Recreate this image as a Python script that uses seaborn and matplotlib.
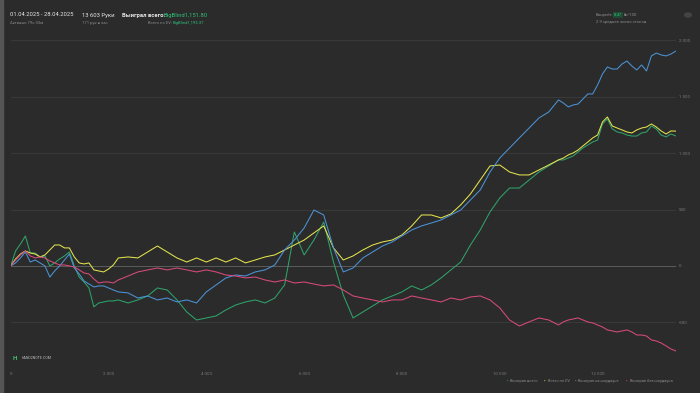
import pandas as pd
import seaborn as sns
import matplotlib.pyplot as plt
from matplotlib.ticker import FuncFormatter, FixedLocator

# hands played: finer steps where the picture was read more closely
hands = list(range(0, 2300, 100)) + list(range(2400, 11200, 200)) + \
    list(range(11200, 13600, 100)) + [13603]

# winnings in big blinds
won_total = [0, 133, 195, 266, 115, 115, 80, 89, 0, 27, 62, 89, 124, 0, -98, -142, -195,
             -363, -328, -319, -310, -310, -301,
             -328, -301, -266, -195, -213, -301, -408, -479, -461, -443, -390, -346, -319,
             -301, -328, -284, -168, 301, 98, 230, 390, 35, -257, -461, -408, -355, -301,
             -266, -230, -177, -213, -168, -106, -35, 35, 186, 319, 479, 603, 691, 691, 762,
             833, 887,
             940, 940, 957, 975, 1011, 1046, 1073, 1099, 1117, 1259, 1303, 1215, 1188, 1179,
             1161, 1152, 1152, 1179, 1188, 1241, 1215, 1161, 1144, 1170, 1151.8]
ev_total = [0, 62, 106, 133, 115, 106, 80, 98, 142, 186, 186, 160, 160, 80, 27, 18, 27, -35,
            -44, -53, -27, 9, 71,
            80, 71, 124, 177, 124, 71, 35, 71, 35, 71, 35, 71, 27, 53, 80, 98, 142, 186, 230,
            293, 355, 160, 53, 89, 142, 186, 213, 230, 275, 355, 452, 452, 426, 461, 541,
            638, 762, 887, 895, 833, 807, 807, 851, 895,
            940, 957, 984, 1002, 1028, 1064, 1099, 1135, 1161, 1277, 1321, 1241, 1223, 1206,
            1188, 1179, 1206, 1223, 1232, 1259, 1232, 1197, 1170, 1197, 1195.37]
won_sd = [0, 27, 71, 124, 35, 53, 27, 0, -98, -44, 0, 53, 106, -18, -71, -133, -160, -186,
          -177, -177, -195, -213, -230,
          -239, -284, -266, -301, -284, -319, -301, -328, -230, -168, -106, -80, -89, -53,
          -35, 9, 142, 230, 337, 496, 452, 160, -53, -18, 71, 124, 177, 213, 266, 319, 355,
          381, 408, 452, 496, 585, 674, 833, 957, 1046, 1135, 1223, 1312, 1365,
          1472, 1445, 1410, 1427, 1436, 1480, 1525, 1525, 1605, 1702, 1764, 1746, 1746,
          1791, 1817, 1773, 1738, 1782, 1729, 1862, 1888, 1871, 1862, 1879, 1906]
won_nsd = [0, 53, 98, 133, 89, 71, 80, 71, 44, 27, 9, 9, 0, -9, -35, -62, -71, -115, -151,
           -142, -142, -151, -124,
           -89, -53, -35, -18, -35, -18, -35, -53, -35, -53, -80, -89, -106, -98, -124, -142,
           -124, -151, -142, -160, -177, -168, -213, -266, -284, -301, -319, -301, -301,
           -266, -284, -301, -319, -284, -301, -275, -266, -301, -372, -479, -532, -496,
           -461, -479,
           -523, -496, -479, -470, -461, -479, -496, -505, -523, -541, -567, -576, -585,
           -576, -567, -585, -612, -612, -621, -656, -665, -683, -709, -736, -754]

series_names = ["Выиграл всего", "Всего по EV", "Выиграл на шоудауне", "Выиграл без шоудауна"]
series_colors = ["#2fa36b", "#e3e34f", "#4b93d6", "#d84a7c"]

y_ticks = [-500, 0, 500, 1000, 1500, 2000]
x_ticks = [0, 2000, 4000, 6000, 8000, 10000, 12000]

BG = "#2b2b2b"

df = pd.DataFrame({"hand": hands * 4,
                   "bb": won_total + ev_total + won_sd + won_nsd,
                   "series": sum([[n] * len(hands) for n in series_names], [])})

sns.set_style("dark")
plt.rcParams["font.family"] = ["Roboto", "DejaVu Sans"]

fig = plt.figure(figsize=(7, 3.93), dpi=100, facecolor=BG)
ax = fig.add_axes([10.7 / 700, 1 - 365 / 393, (676 - 10.7) / 700, (365 - 30) / 393])
ax.set_facecolor(BG)

# grid lines
for t in y_ticks:
    ax.axhline(t, color="#5c5c5c" if t == 0 else "#3a3a3a", lw=0.7, zorder=0)

sns.lineplot(data=df, x="hand", y="bb", hue="series", hue_order=series_names,
             palette=dict(zip(series_names, series_colors)), linewidth=0.75,
             legend=False, ax=ax, estimator=None)

ax.set_xlim(0, 13603)
ax.set_ylim(-878, 2092)
for s in ax.spines.values():
    s.set_visible(False)
ax.set_xlabel("")
ax.set_ylabel("")
fmt = FuncFormatter(lambda v, p: f"{int(v):,}".replace(",", " "))
ax.xaxis.set_major_locator(FixedLocator(x_ticks))
ax.yaxis.set_major_locator(FixedLocator(y_ticks))
ax.xaxis.set_major_formatter(fmt)
ax.yaxis.set_major_formatter(fmt)
ax.yaxis.tick_right()
ax.tick_params(axis="both", length=0, labelsize=3.2, colors="#7a7a7a")
ax.tick_params(axis="x", pad=5)
ax.tick_params(axis="y", pad=2)

# left border strip
fig.patches.append(plt.Rectangle((0, 0), 3 / 700, 1, transform=fig.transFigure,
                                 color="#555555", zorder=0))

# header
W, G, L = "#e6e6e6", "#2fbf7a", "#8a8a8a"
big, small = 4.2, 3.0
fig.text(10 / 700, 1 - 15 / 393, "01.04.2025 - 28.04.2025", color=W, fontsize=big, va="center")
fig.text(10 / 700, 1 - 23 / 393, "Активно 79ч 33м", color=L, fontsize=small, va="center")
fig.text(82 / 700, 1 - 15 / 393, "13 603 Руки", color=W, fontsize=big, va="center")
fig.text(82 / 700, 1 - 23 / 393, "171 рук в час", color=L, fontsize=small, va="center")
fig.text(122 / 700, 1 - 15 / 393, "Выиграл всего:", color=W, fontsize=big, va="center",
         fontweight="bold")
fig.text(164 / 700, 1 - 15 / 393, "BigBlind1,151.80", color=G, fontsize=big, va="center")
fig.text(148 / 700, 1 - 23 / 393, "Всего по EV:", color=L, fontsize=small, va="center")
fig.text(173 / 700, 1 - 23 / 393, "BigBlind1,195.37", color=G, fontsize=small, va="center")
fig.text(596 / 700, 1 - 15 / 393, "Винрейт:", color=L, fontsize=small, va="center")
fig.text(614 / 700, 1 - 15 / 393, "8.47", color=G, fontsize=small, va="center",
         bbox=dict(boxstyle="square,pad=0.15", fc="#1f4a33", ec="none"))
fig.text(624 / 700, 1 - 15 / 393, "bb/100", color=L, fontsize=small, va="center")
fig.text(596 / 700, 1 - 22 / 393, "2.9 среднее число столов", color=L, fontsize=small,
         va="center")
fig.patches.append(plt.Circle((688 / 700, 1 - 15 / 393), 3.5 / 700, transform=fig.transFigure,
                              color="#444444"))

# logo
fig.text(13 / 700, 1 - 358 / 393, "H", color="#3fbf6f", fontsize=4.5, va="center",
         fontweight="bold")
fig.text(22 / 700, 1 - 358 / 393, "HAND2NOTE.COM", color="#bbbbbb", fontsize=2.6, va="center")

# legend
lx = [507, 544, 575, 626]
for x0, name, c in zip(lx, series_names, series_colors):
    fig.text(x0 / 700, 1 - 381 / 393, "•", color=c, fontsize=3.5, va="center")
    fig.text((x0 + 3.5) / 700, 1 - 381 / 393, name, color="#8a8a8a", fontsize=2.9,
             va="center")

fig.savefig("out.png", dpi=100, facecolor=BG)
